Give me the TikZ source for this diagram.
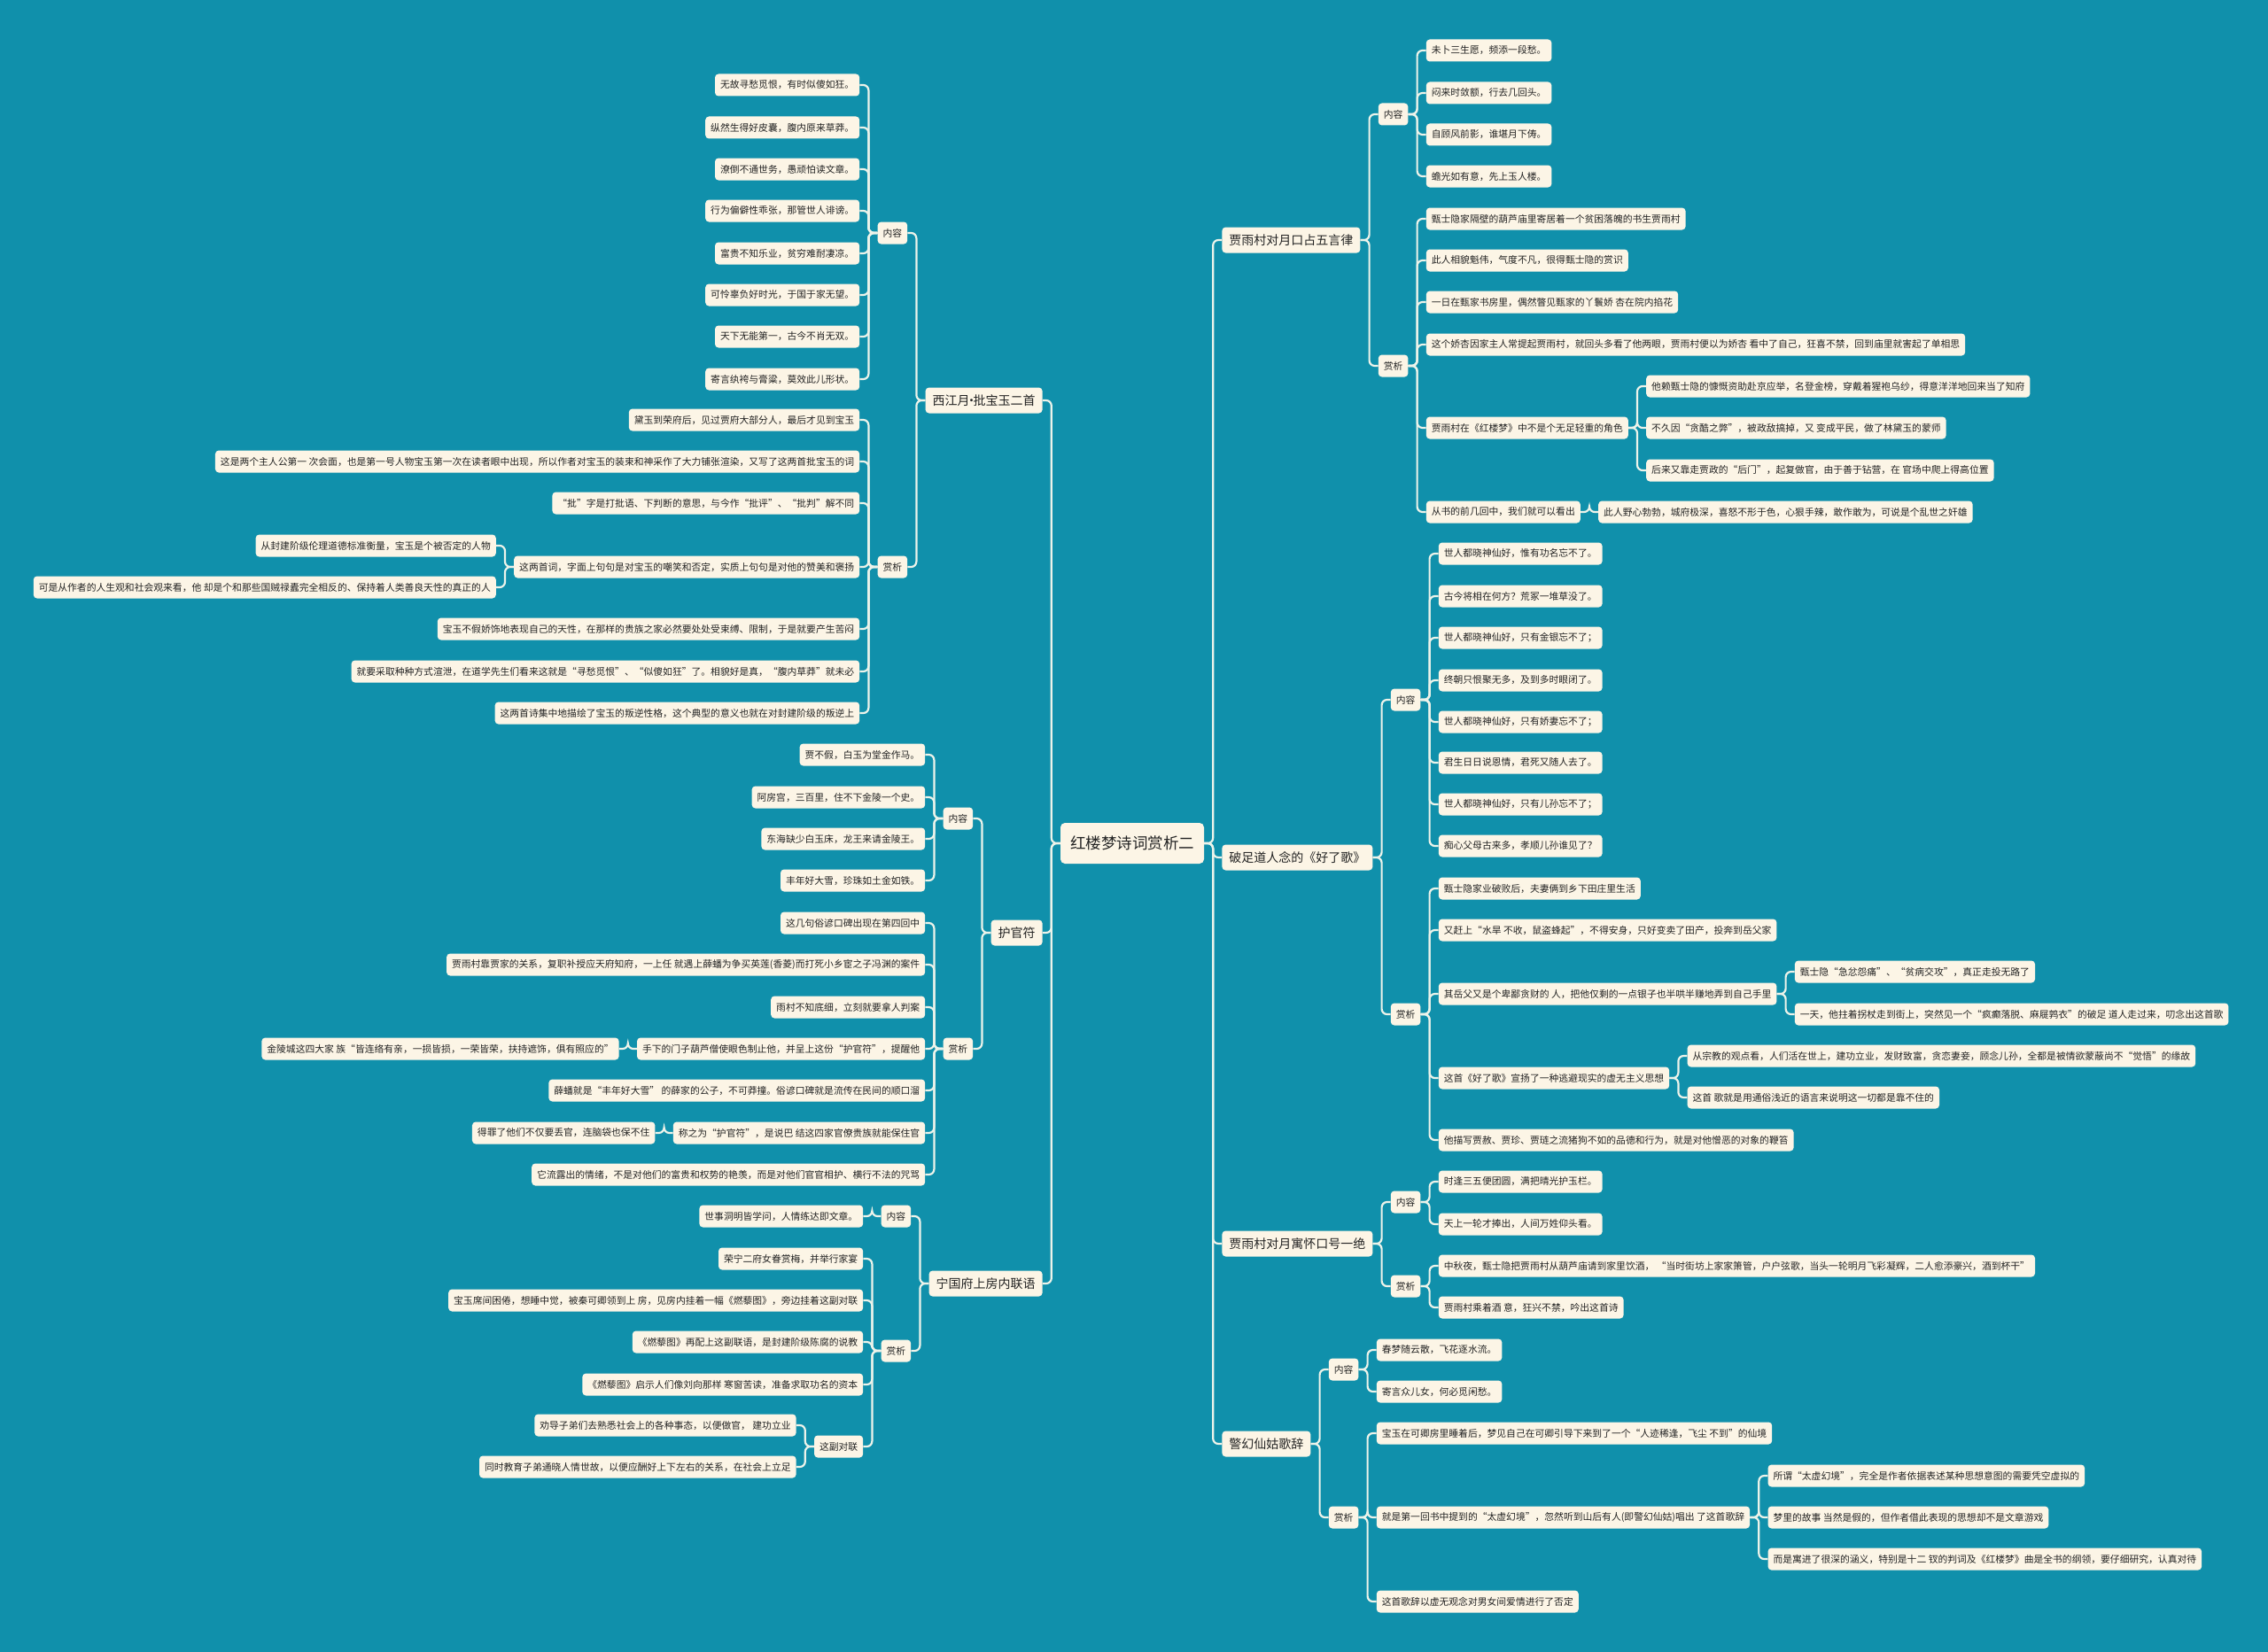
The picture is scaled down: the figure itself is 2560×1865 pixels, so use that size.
\documentclass[tikz,border=0pt]{standalone}
\usepackage{fontspec}
\newfontfamily\cjk{Noto Sans CJK SC}
\usetikzlibrary{calc}
\definecolor{bgc}{RGB}{16,144,171}
\definecolor{boxc}{RGB}{252,245,230}
\definecolor{txtc}{RGB}{35,35,35}
\definecolor{linec}{RGB}{236,243,234}
\tikzset{
 base/.style={fill=boxc, text=txtc, rounded corners=4pt, inner ysep=2pt},
 leaf/.style={base, inner xsep=6pt, minimum height=25pt, font=\cjk\fontsize{10.8}{13}\selectfont},
 sub/.style={leaf},
 main/.style={base, inner xsep=8pt, minimum height=29pt, font=\cjk\fontsize{14}{17}\selectfont},
 rootn/.style={base, rounded corners=5pt, inner xsep=11pt, minimum height=46pt, font=\cjk\fontsize{17.5}{21}\selectfont},
 edge/.style={draw=linec, line width=2.2pt, rounded corners=6pt},
}
\newcommand\addR[5][leaf]{%
 \path (#2.east) ++(20pt,0pt) coordinate (t#3);
 \node[#1,anchor=west] (#3) at (t#3 |- 0,#4) {#5};
 \draw[edge] let \p1=(#2.east), \p2=(#3.west) in (\p1) -- ({(\x1+\x2)/2},\y1) |- (\p2);}
\newcommand\addL[5][leaf]{%
 \path (#2.west) ++(-20pt,0pt) coordinate (t#3);
 \node[#1,anchor=east] (#3) at (t#3 |- 0,#4) {#5};
 \draw[edge] let \p1=(#2.west), \p2=(#3.east) in (\p1) -- ({(\x1+\x2)/2},\y1) |- (\p2);}
\begin{document}
\begin{tikzpicture}[x=1pt,y=-1pt]
\fill[bgc] (0,0) rectangle (2560,1865);
\useasboundingbox (0,0) rectangle (2560,1865);
\node[rootn] (root) at (1278,952) {红楼梦诗词赏析二};
% ---------- left: 西江月
\addL[main]{root}{xj}{452}{西江月\makebox[4pt]{·}批宝玉二首}
\addL[sub]{xj}{xjn}{263}{内容}
\addL{xjn}{xjn1}{96}{无故寻愁觅恨，有时似傻如狂。}
\addL{xjn}{xjn2}{144}{纵然生得好皮囊，腹内原来草莽。}
\addL{xjn}{xjn3}{191}{潦倒不通世务，愚顽怕读文章。}
\addL{xjn}{xjn4}{238}{行为偏僻性乖张，那管世人诽谤。}
\addL{xjn}{xjn5}{286}{富贵不知乐业，贫穷难耐凄凉。}
\addL{xjn}{xjn6}{333}{可怜辜负好时光，于国于家无望。}
\addL{xjn}{xjn7}{380}{天下无能第一，古今不肖无双。}
\addL{xjn}{xjn8}{428}{寄言纨袴与膏粱，莫效此儿形状。}
\addL[sub]{xj}{xjs}{640}{赏析}
\addL{xjs}{xjs1}{474}{黛玉到荣府后，见过贾府大部分人，最后才见到宝玉}
\addL{xjs}{xjs2}{521}{这是两个主人公第一 次会面，也是第一号人物宝玉第一次在读者眼中出现，所以作者对宝玉的装束和神采作了大力铺张渲染，又写了这两首批宝玉的词}
\addL{xjs}{xjs3}{568}{“批”字是打批语、下判断的意思，与今作“批评”、“批判”解不同}
\addL{xjs}{xjs4}{640}{这两首词，字面上句句是对宝玉的嘲笑和否定，实质上句句是对他的赞美和褒扬}
\addL{xjs4}{xjs4a}{616}{从封建阶级伦理道德标准衡量，宝玉是个被否定的人物}
\addL{xjs4}{xjs4b}{663}{可是从作者的人生观和社会观来看，他 却是个和那些国贼禄蠹完全相反的、保持着人类善良天性的真正的人}
\addL{xjs}{xjs5}{710}{宝玉不假娇饰地表现自己的天性，在那样的贵族之家必然要处处受束缚、限制，于是就要产生苦闷}
\addL{xjs}{xjs6}{758}{就要采取种种方式渲泄，在道学先生们看来这就是“寻愁觅恨”、“似傻如狂”了。相貌好是真，“腹内草莽”就未必}
\addL{xjs}{xjs7}{805}{这两首诗集中地描绘了宝玉的叛逆性格，这个典型的意义也就在对封建阶级的叛逆上}
% ---------- left: 护官符
\addL[main]{root}{hg}{1053}{护官符}
\addL[sub]{hg}{hgn}{924}{内容}
\addL{hgn}{hgn1}{852}{贾不假，白玉为堂金作马。}
\addL{hgn}{hgn2}{900}{阿房宫，三百里，住不下金陵一个史。}
\addL{hgn}{hgn3}{947}{东海缺少白玉床，龙王来请金陵王。}
\addL{hgn}{hgn4}{994}{丰年好大雪，珍珠如土金如铁。}
\addL[sub]{hg}{hgs}{1184}{赏析}
\addL{hgs}{hgs1}{1042}{这几句俗谚口碑出现在第四回中}
\addL{hgs}{hgs2}{1089}{贾雨村靠贾家的关系，复职补授应天府知府，一上任 就遇上薛蟠为争买英莲(香菱)而打死小乡宦之子冯渊的案件}
\addL{hgs}{hgs3}{1137}{雨村不知底细，立刻就要拿人判案}
\addL{hgs}{hgs4}{1184}{手下的门子葫芦僧使眼色制止他，并呈上这份“护官符”，提醒他}
\addL{hgs4}{hgs4a}{1184}{金陵城这四大家 族“皆连络有亲，一损皆损，一荣皆荣，扶持遮饰，俱有照应的”}
\addL{hgs}{hgs5}{1231}{薛蟠就是“丰年好大雪” 的薛家的公子，不可莽撞。俗谚口碑就是流传在民间的顺口溜}
\addL{hgs}{hgs6}{1279}{称之为“护官符”，是说巴 结这四家官僚贵族就能保住官}
\addL{hgs6}{hgs6a}{1279}{得罪了他们不仅要丢官，连脑袋也保不住}
\addL{hgs}{hgs7}{1326}{它流露出的情绪，不是对他们的富贵和权势的艳羡，而是对他们官官相护、横行不法的咒骂}
% ---------- left: 宁国府
\addL[main]{root}{ng}{1449}{宁国府上房内联语}
\addL[sub]{ng}{ngn}{1373}{内容}
\addL{ngn}{ngn1}{1373}{世事洞明皆学问，人情练达即文章。}
\addL[sub]{ng}{ngs}{1525}{赏析}
\addL{ngs}{ngs1}{1421}{荣宁二府女眷赏梅，并举行家宴}
\addL{ngs}{ngs2}{1468}{宝玉席间困倦，想睡中觉，被秦可卿领到上 房，见房内挂着一幅《燃藜图》，旁边挂着这副对联}
\addL{ngs}{ngs3}{1515}{《燃藜图》再配上这副联语，是封建阶级陈腐的说教}
\addL{ngs}{ngs4}{1563}{《燃藜图》启示人们像刘向那样 寒窗苦读，准备求取功名的资本}
\addL{ngs}{ngs5}{1633}{这副对联}
\addL{ngs5}{ngs5a}{1609}{劝导子弟们去熟悉社会上的各种事态，以便做官， 建功立业}
\addL{ngs5}{ngs5b}{1656}{同时教育子弟通晓人情世故，以便应酬好上下左右的关系，在社会上立足}
% ---------- right: 贾雨村对月口占五言律
\addR[main]{root}{jy}{271}{贾雨村对月口占五言律}
\addR[sub]{jy}{jyn}{129}{内容}
\addR{jyn}{jyn1}{57}{未卜三生愿，频添一段愁。}
\addR{jyn}{jyn2}{105}{闷来时敛额，行去几回头。}
\addR{jyn}{jyn3}{152}{自顾风前影，谁堪月下俦。}
\addR{jyn}{jyn4}{199}{蟾光如有意，先上玉人楼。}
\addR[sub]{jy}{jys}{413}{赏析}
\addR{jys}{jys1}{247}{甄士隐家隔壁的葫芦庙里寄居着一个贫困落魄的书生贾雨村}
\addR{jys}{jys2}{294}{此人相貌魁伟，气度不凡，很得甄士隐的赏识}
\addR{jys}{jys3}{341}{一日在甄家书房里，偶然瞥见甄家的丫鬟娇 杏在院内掐花}
\addR{jys}{jys4}{389}{这个娇杏因家主人常提起贾雨村，就回头多看了他两眼，贾雨村便以为娇杏 看中了自己，狂喜不禁，回到庙里就害起了单相思}
\addR{jys}{jys5}{483}{贾雨村在《红楼梦》中不是个无足轻重的角色}
\addR{jys5}{jys5a}{436}{他赖甄士隐的慷慨资助赴京应举，名登金榜，穿戴着猩袍乌纱，得意洋洋地回来当了知府}
\addR{jys5}{jys5b}{483}{不久因“贪酷之弊”，被政敌搞掉，又 变成平民，做了林黛玉的蒙师}
\addR{jys5}{jys5c}{531}{后来又靠走贾政的“后门”，起复做官，由于善于钻营，在 官场中爬上得高位置}
\addR{jys}{jys6}{578}{从书的前几回中，我们就可以看出}
\addR{jys6}{jys6a}{578}{此人野心勃勃，城府极深，喜怒不形于色，心狠手辣，敢作敢为，可说是个乱世之奸雄}
% ---------- right: 好了歌
\addR[main]{root}{hl}{968}{破足道人念的《好了歌》}
\addR[sub]{hl}{hln}{790}{内容}
\addR{hln}{hln1}{625}{世人都晓神仙好，惟有功名忘不了。}
\addR{hln}{hln2}{673}{古今将相在何方？荒冢一堆草没了。}
\addR{hln}{hln3}{720}{世人都晓神仙好，只有金银忘不了；}
\addR{hln}{hln4}{768}{终朝只恨聚无多，及到多时眼闭了。}
\addR{hln}{hln5}{815}{世人都晓神仙好，只有娇妻忘不了；}
\addR{hln}{hln6}{861}{君生日日说恩情，君死又随人去了。}
\addR{hln}{hln7}{908}{世人都晓神仙好，只有儿孙忘不了；}
\addR{hln}{hln8}{955}{痴心父母古来多，孝顺儿孙谁见了？}
\addR[sub]{hl}{hls}{1145}{赏析}
\addR{hls}{hls1}{1003}{甄士隐家业破败后，夫妻俩到乡下田庄里生活}
\addR{hls}{hls2}{1050}{又赶上“水旱 不收，鼠盗蜂起”，不得安身，只好变卖了田产，投奔到岳父家}
\addR{hls}{hls3}{1122}{其岳父又是个卑鄙贪财的 人，把他仅剩的一点银子也半哄半赚地弄到自己手里}
\addR{hls3}{hls3a}{1097}{甄士隐“急忿怨痛”、“贫病交攻”，真正走投无路了}
\addR{hls3}{hls3b}{1145}{一天，他拄着拐杖走到街上，突然见一个“疯癫落脱、麻屣鹑衣”的破足 道人走过来，叨念出这首歌}
\addR{hls}{hls4}{1217}{这首《好了歌》宣扬了一种逃避现实的虚无主义思想}
\addR{hls4}{hls4a}{1192}{从宗教的观点看，人们活在世上，建功立业，发财致富，贪恋妻妾，顾念儿孙，全都是被情欲蒙蔽尚不“觉悟”的缘故}
\addR{hls4}{hls4b}{1239}{这首 歌就是用通俗浅近的语言来说明这一切都是靠不住的}
\addR{hls}{hls5}{1287}{他描写贾赦、贾珍、贾琏之流猪狗不如的品德和行为，就是对他憎恶的对象的鞭笞}
% ---------- right: 寓怀
\addR[main]{root}{yh}{1404}{贾雨村对月寓怀口号一绝}
\addR[sub]{yh}{yhn}{1357}{内容}
\addR{yhn}{yhn1}{1334}{时逢三五便团圆，满把晴光护玉栏。}
\addR{yhn}{yhn2}{1382}{天上一轮才捧出，人间万姓仰头看。}
\addR[sub]{yh}{yhs}{1452}{赏析}
\addR{yhs}{yhs1}{1429}{中秋夜，甄士隐把贾雨村从葫芦庙请到家里饮酒， “当时街坊上家家箫管，户户弦歌，当头一轮明月飞彩凝辉，二人愈添豪兴，酒到杯干”}
\addR{yhs}{yhs2}{1476}{贾雨村乘着酒 意，狂兴不禁，吟出这首诗}
% ---------- right: 警幻仙姑歌辞
\addR[main]{root}{jh}{1630}{警幻仙姑歌辞}
\addR[sub]{jh}{jhn}{1546}{内容}
\addR{jhn}{jhn1}{1524}{春梦随云散，飞花逐水流。}
\addR{jhn}{jhn2}{1571}{寄言众儿女，何必觅闲愁。}
\addR[sub]{jh}{jhs}{1713}{赏析}
\addR{jhs}{jhs1}{1618}{宝玉在可卿房里睡着后，梦见自己在可卿引导下来到了一个“人迹稀逢，飞尘 不到”的仙境}
\addR{jhs}{jhs2}{1713}{就是第一回书中提到的“太虚幻境”，忽然听到山后有人(即警幻仙姑)唱出 了这首歌辞}
\addR{jhs2}{jhs2a}{1666}{所谓“太虚幻境”，完全是作者依据表述某种思想意图的需要凭空虚拟的}
\addR{jhs2}{jhs2b}{1713}{梦里的故事 当然是假的，但作者借此表现的思想却不是文章游戏}
\addR{jhs2}{jhs2c}{1760}{而是寓进了很深的涵义，特别是十二 钗的判词及《红楼梦》曲是全书的纲领，要仔细研究，认真对待}
\addR{jhs}{jhs3}{1808}{这首歌辞以虚无观念对男女间爱情进行了否定}
\end{tikzpicture}
\end{document}
